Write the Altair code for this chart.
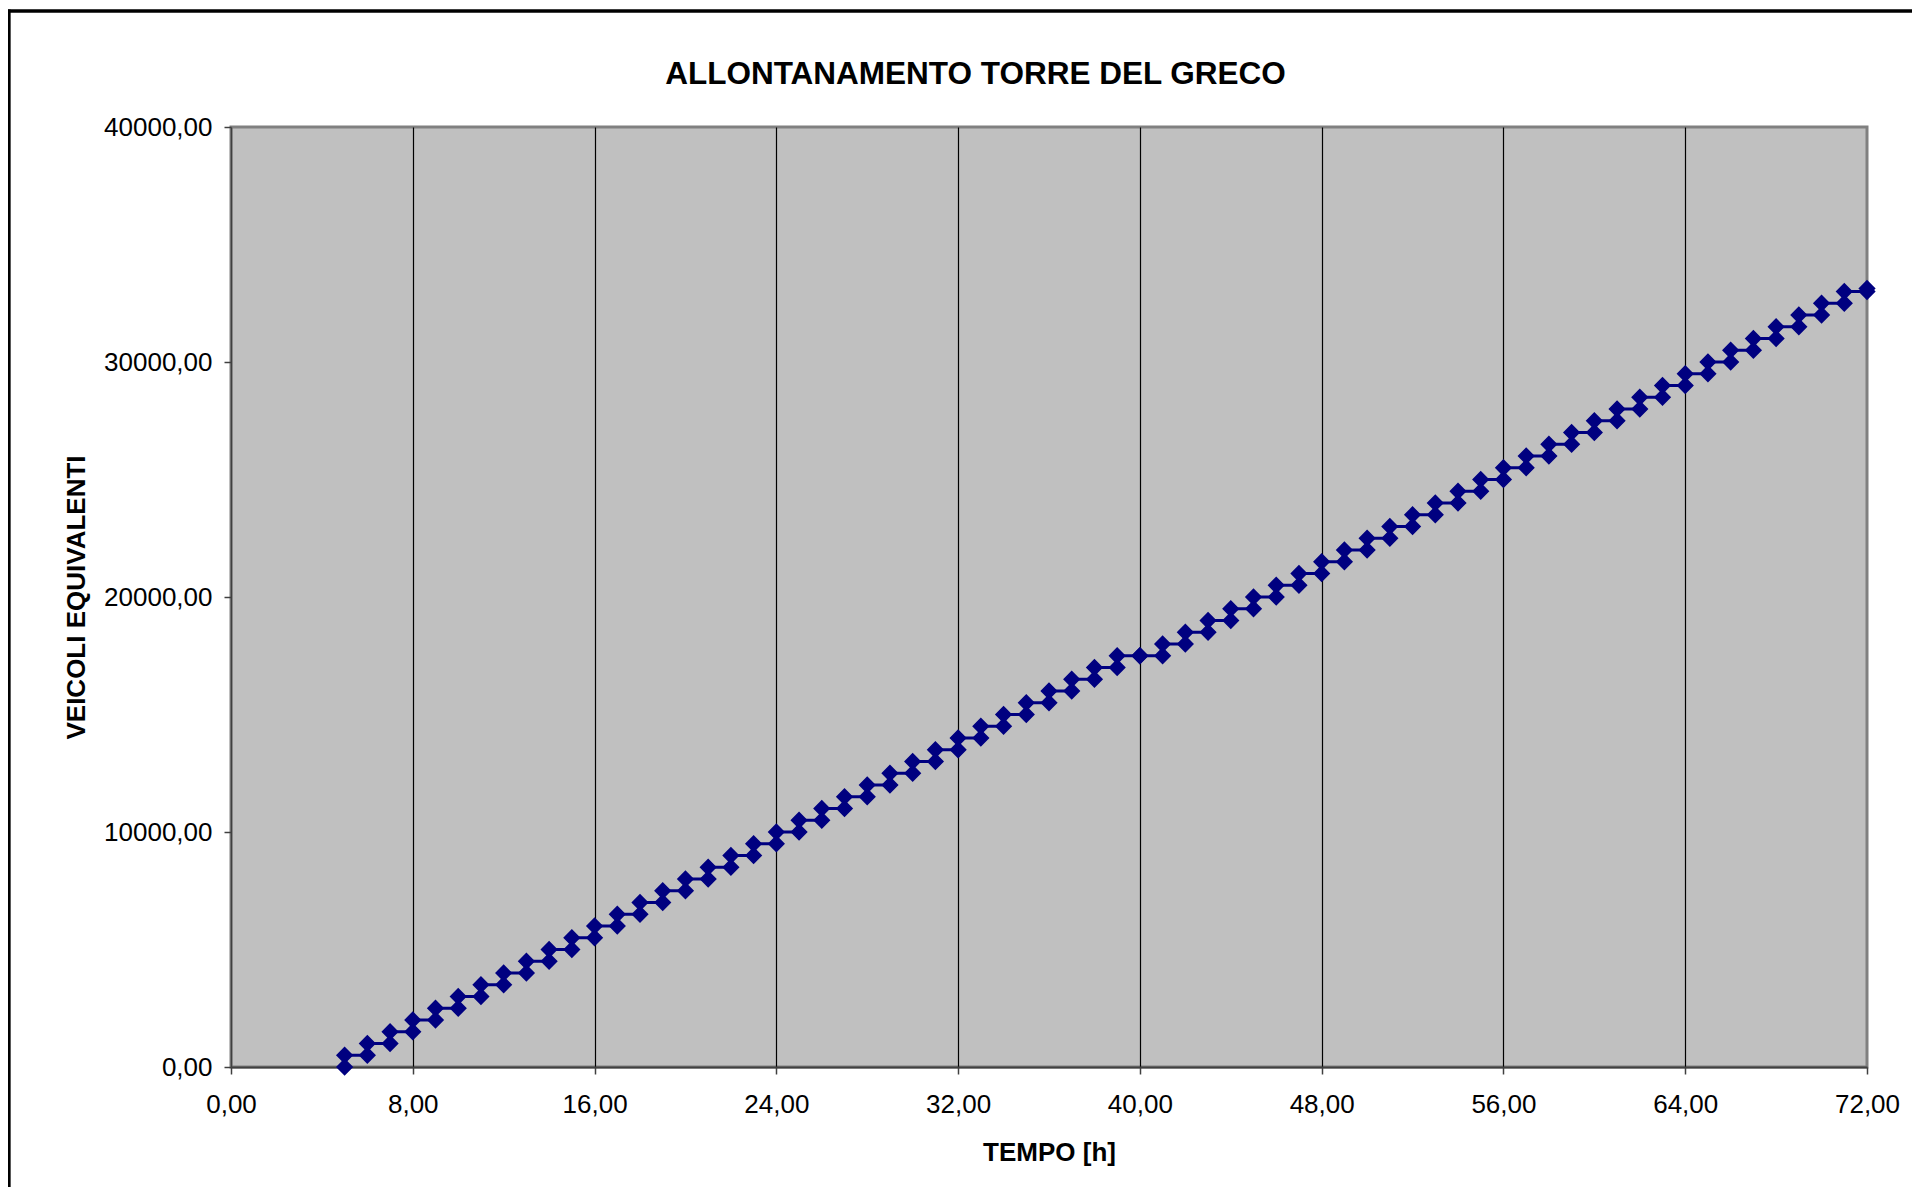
import altair as alt
import pandas as pd

# TEMPO [h] (each hour has a start and end cumulative value -> step line)
hours = [5, 6, 7, 8, 9, 10, 11, 12, 13, 14,
         15, 16, 17, 18, 19, 20, 21, 22, 23, 24,
         25, 26, 27, 28, 29, 30, 31, 32, 33, 34,
         35, 36, 37, 38, 39, 40, 41, 42, 43, 44,
         45, 46, 47, 48, 49, 50, 51, 52, 53, 54,
         55, 56, 57, 58, 59, 60, 61, 62, 63, 64,
         65, 66, 67, 68, 69, 70, 71, 72]

veicoli_inizio = [0, 500, 1000, 1500, 2000, 2500, 3000, 3500, 4000, 4500,
                  5000, 5500, 6000, 6500, 7000, 7500, 8000, 8500, 9000, 9500,
                  10000, 10500, 11000, 11500, 12000, 12500, 13000, 13500, 14000, 14500,
                  15000, 15500, 16000, 16500, 17000, 17500, 17500, 18000, 18500, 19000,
                  19500, 20000, 20500, 21000, 21500, 22000, 22500, 23000, 23500, 24000,
                  24500, 25000, 25500, 26000, 26500, 27000, 27500, 28000, 28500, 29000,
                  29500, 30000, 30500, 31000, 31500, 32000, 32500, 33000]

veicoli_fine = [500, 1000, 1500, 2000, 2500, 3000, 3500, 4000, 4500, 5000,
                5500, 6000, 6500, 7000, 7500, 8000, 8500, 9000, 9500, 10000,
                10500, 11000, 11500, 12000, 12500, 13000, 13500, 14000, 14500, 15000,
                15500, 16000, 16500, 17000, 17500, 17500, 18000, 18500, 19000, 19500,
                20000, 20500, 21000, 21500, 22000, 22500, 23000, 23500, 24000, 24500,
                25000, 25500, 26000, 26500, 27000, 27500, 28000, 28500, 29000, 29500,
                30000, 30500, 31000, 31500, 32000, 32500, 33000, 33130]

x_ticks = [0, 8, 16, 24, 32, 40, 48, 56, 64, 72]
y_ticks = [0, 10000, 20000, 30000, 40000]

rows = []
seq = 0
for h, a, b in zip(hours, veicoli_inizio, veicoli_fine):
    rows.append({"tempo": h, "veicoli": a, "seq": seq}); seq += 1
    rows.append({"tempo": h, "veicoli": b, "seq": seq}); seq += 1
df = pd.DataFrame(rows)

fmt = "replace(format(datum.value, '.2f'), '.', ',')"
FONT = "Liberation Sans"
NAVY = "#000080"

x_enc = alt.X(
    "tempo:Q",
    scale=alt.Scale(domain=[0, 72], nice=False, zero=False),
    axis=alt.Axis(
        values=x_ticks, labelExpr=fmt, title="TEMPO [h]",
        grid=True, gridColor="black", gridWidth=1.2,
        gridOpacity={"condition": {"test": "datum.value === 0 || datum.value === 72", "value": 0}, "value": 1},
        tickSize=7, tickColor="#404040", tickWidth=1.5,
        domainColor="#404040", domainWidth=2,
        labelPadding=38, labelBaseline="alphabetic", labelFlush=False, labelOverlap=False,
        titleBaseline="alphabetic", titleY=93,
    ),
)
y_enc = alt.Y(
    "veicoli:Q",
    scale=alt.Scale(domain=[0, 40000], nice=False),
    axis=alt.Axis(
        values=y_ticks, labelExpr=fmt, title="VEICOLI EQUIVALENTI",
        grid=False, tickSize=7, tickColor="#404040", tickWidth=1.5,
        domainColor="#404040", domainWidth=1.5,
        labelPadding=12, labelFlush=False, labelOverlap=False,
        titleX=-155, titleY=470, titleAlign="center", titleBaseline="middle", titleAngle=-90,
    ),
)

base = alt.Chart(df)
line = base.mark_line(color=NAVY, strokeWidth=2.8).encode(x=x_enc, y=y_enc, order="seq:Q")
pts = base.mark_point(shape="diamond", filled=True, fill=NAVY, stroke=NAVY, strokeWidth=1.5,
                      size=230, opacity=1).encode(x="tempo:Q", y="veicoli:Q")

one = alt.Chart(pd.DataFrame({"k": [0]}))
border_left = one.mark_rule(color="black", strokeWidth=3.3).encode(
    x=alt.value(-222), y=alt.value(-117.5), y2=alt.value(1200))
border_top = one.mark_rule(color="black", strokeWidth=3.3).encode(
    x=alt.value(-223.5), x2=alt.value(1800), y=alt.value(-116))

chart = alt.layer(line, pts, border_left, border_top).properties(
    width=1636, height=940,
    title=alt.TitleParams(
        "ALLONTANAMENTO TORRE DEL GRECO", font=FONT, fontSize=31.5, fontWeight="bold",
        color="black", anchor="middle", frame="group", dx=-73.5, offset=27, dy=135,
        baseline="alphabetic"),
    autosize=alt.AutoSizeParams(type="none"),
    padding={"left": 223, "top": 119, "right": 45, "bottom": 120},
    background="white",
).configure_view(
    fill="#C0C0C0", stroke="#808080", strokeWidth=3
).configure_axis(
    labelFont=FONT, labelFontSize=26, labelColor="black",
    titleFont=FONT, titleFontSize=26, titleFontWeight="bold", titleColor="black",
)

chart.save("out.html", embed_options={"renderer": "svg", "actions": False})
